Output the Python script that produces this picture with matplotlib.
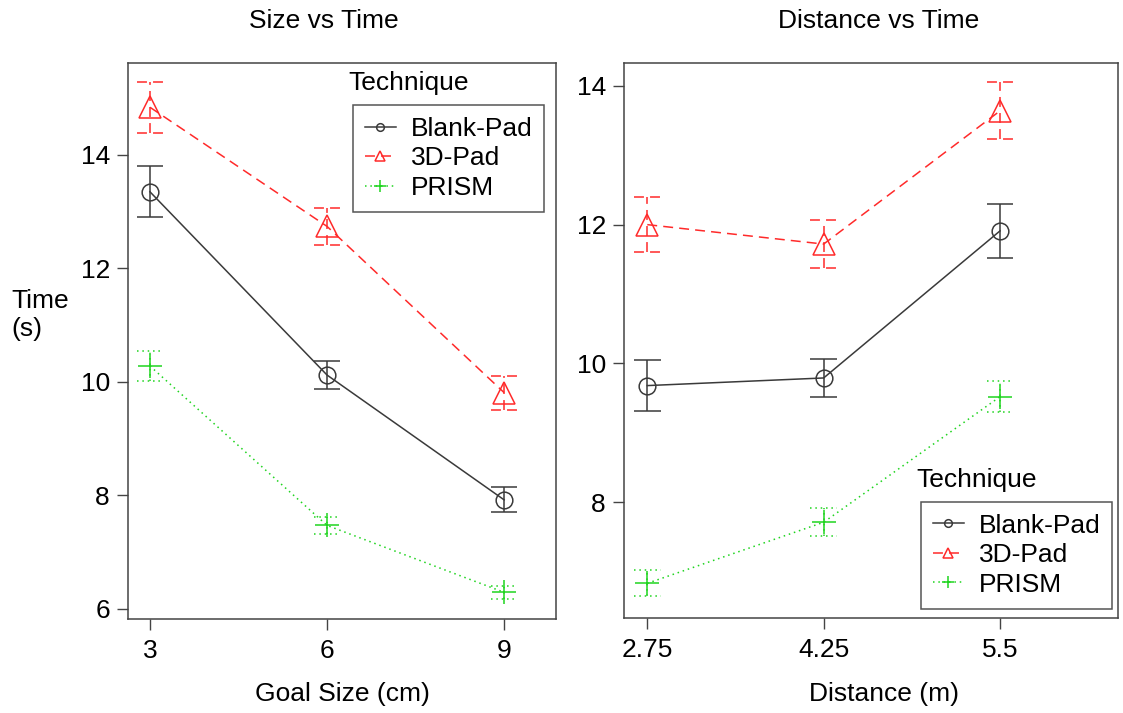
import matplotlib
matplotlib.use("Agg")
import matplotlib.pyplot as plt
from matplotlib.lines import Line2D
import numpy as np

plt.rcParams['font.family'] = ['Liberation Sans', 'DejaVu Sans']
plt.rcParams['font.size'] = 19

techniques = ["Blank-Pad", "3D-Pad", "PRISM"]

# Left panel: Goal Size (cm)
size_labels = ["3", "6", "9"]
size_mean = {
    "Blank-Pad": [13.35, 10.12, 7.92],
    "3D-Pad":    [14.84, 12.74, 9.81],
    "PRISM":     [10.28, 7.47, 6.29],
}
size_err = {
    "Blank-Pad": [0.45, 0.25, 0.22],
    "3D-Pad":    [0.45, 0.33, 0.30],
    "PRISM":     [0.27, 0.15, 0.12],
}

# Right panel: Distance (m)
dist_labels = ["2.75", "4.25", "5.5"]
dist_mean = {
    "Blank-Pad": [9.68, 9.79, 11.91],
    "3D-Pad":    [12.00, 11.72, 13.64],
    "PRISM":     [6.83, 7.71, 9.52],
}
dist_err = {
    "Blank-Pad": [0.37, 0.28, 0.39],
    "3D-Pad":    [0.40, 0.35, 0.41],
    "PRISM":     [0.19, 0.20, 0.22],
}

styles = {
    "Blank-Pad": dict(color="#3a3a3a", ls="-", marker="o", ms=12, lms=5.5),
    "3D-Pad":    dict(color="#ff2a2a", ls=(0, (6.5, 4)), marker="^", ms=16.5, lms=7.5),
    "PRISM":     dict(color="#1fd41f", ls=(0, (1, 2.5)), marker="+", ms=17, lms=9),
}

W, H = 1123, 713
fig = plt.figure(figsize=(W / 100, H / 100), dpi=100)

def fx(px):
    return px / W

def fy(py):
    return 1 - py / H

axL = fig.add_axes([fx(128), fy(619), fx(556) - fx(128), fy(63) - fy(619)])
axR = fig.add_axes([fx(624), fy(618), fx(1118) - fx(624), fy(63) - fy(618)])

capw = 0.075

def draw(ax, labels, means, errs):
    x = np.arange(len(labels))
    for t in techniques:
        st = styles[t]
        m = np.array(means[t])
        e = np.array(errs[t])
        ax.plot(x, m, color=st["color"], linestyle=st["ls"], linewidth=1.1,
                marker=st["marker"], markersize=st["ms"], markerfacecolor="none",
                markeredgecolor=st["color"], markeredgewidth=1.1, zorder=3)
        ax.vlines(x, m - e, m + e, colors=st["color"], linestyles=[st["ls"]], linewidth=1.1)
        ax.hlines(m + e, x - capw, x + capw, colors=st["color"], linestyles=[st["ls"]], linewidth=1.1)
        ax.hlines(m - e, x - capw, x + capw, colors=st["color"], linestyles=[st["ls"]], linewidth=1.1)
    ax.set_xticks(x)
    ax.set_xticklabels(labels)
    for sp in ax.spines.values():
        sp.set_color("#444444")
        sp.set_linewidth(1.1)
    ax.tick_params(direction="out", length=8, width=1.0, color="#444444",
                   labelsize=19, pad=5)
    ax.tick_params(axis="x", pad=6.5)

draw(axL, size_labels, size_mean, size_err)
axL.set_xlim(-0.124, 2.293)
axL.set_ylim(5.82, 15.62)
axL.set_yticks([6, 8, 10, 12, 14])

draw(axR, dist_labels, dist_mean, dist_err)
axR.set_xlim(-0.132, 2.669)
axR.set_ylim(6.33, 14.33)
axR.set_yticks([8, 10, 12, 14])

handles = [Line2D([], [], color=styles[t]["color"], linestyle=styles[t]["ls"], linewidth=1.1,
                  marker=styles[t]["marker"], markersize=styles[t]["lms"],
                  markerfacecolor="none", markeredgecolor=styles[t]["color"],
                  markeredgewidth=1.1) for t in techniques]

def add_legend(ax, left, top, title_left, title_y):
    leg = ax.legend(handles, techniques, loc="upper left",
                    bbox_to_anchor=(fx(left), fy(top)), bbox_transform=fig.transFigure,
                    borderaxespad=0, fancybox=False, edgecolor="#555555",
                    framealpha=1, fontsize=19, handlelength=1.2, handletextpad=0.55,
                    labelspacing=0.21, borderpad=0.45)
    leg.get_frame().set_linewidth(1.1)
    fig.text(fx(title_left), fy(title_y), "Technique", ha="left", va="center", fontsize=19)

add_legend(axL, 352.7, 105, 348, 83)
add_legend(axR, 920.7, 501.7, 916, 480)

fig.text(fx(324), fy(21), "Size vs Time", ha="center", va="center", fontsize=19)
fig.text(fx(879), fy(21), "Distance vs Time", ha="center", va="center", fontsize=19)
fig.text(fx(342), fy(694), "Goal Size (cm)", ha="center", va="center", fontsize=19)
fig.text(fx(884), fy(694), "Distance (m)", ha="center", va="center", fontsize=19)
fig.text(fx(11), fy(315), "Time\n(s)", ha="left", va="center", fontsize=19, linespacing=1.25)

fig.savefig("out.png", dpi=100)
